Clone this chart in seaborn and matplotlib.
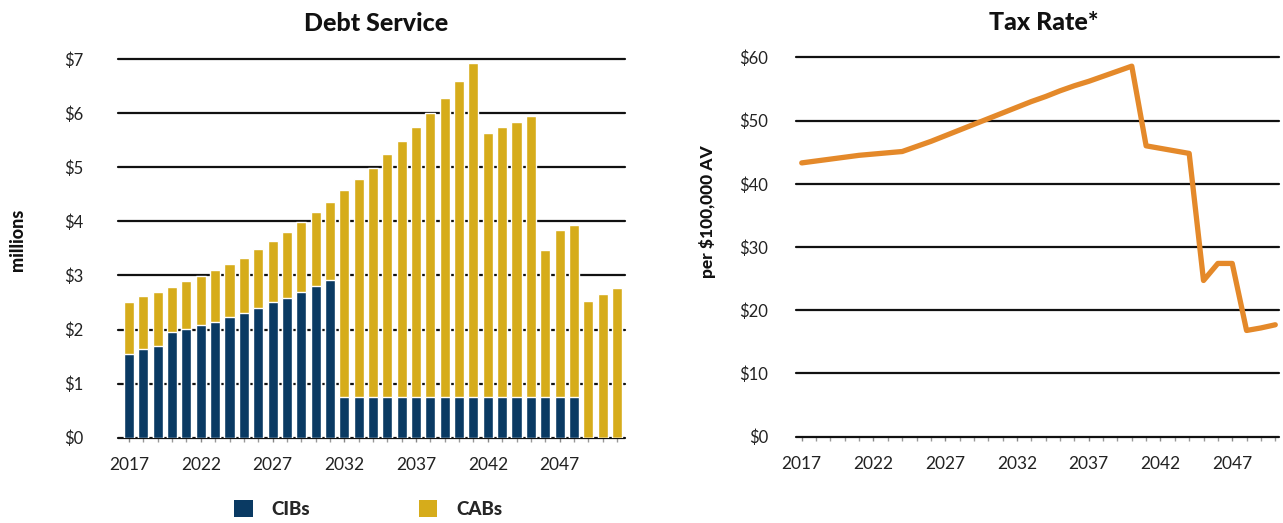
import matplotlib
matplotlib.use("Agg")
import matplotlib.pyplot as plt
from matplotlib.patches import Patch
from matplotlib.ticker import FuncFormatter, MultipleLocator
import seaborn as sns
import pandas as pd

# Debt service by year, $ millions
years = list(range(2017, 2052))
cibs = [1.55, 1.64, 1.70, 1.95, 2.01, 2.08, 2.14, 2.24, 2.31, 2.40,
        2.50, 2.59, 2.70, 2.80, 2.91, 0.76, 0.76, 0.76, 0.76, 0.76,
        0.76, 0.76, 0.76, 0.76, 0.76, 0.76, 0.76, 0.76, 0.76, 0.76,
        0.76, 0.76, 0.00, 0.00, 0.00]
cabs = [0.95, 0.97, 0.99, 0.84, 0.89, 0.90, 0.96, 0.97, 1.02, 1.08,
        1.14, 1.21, 1.29, 1.37, 1.45, 3.81, 4.02, 4.22, 4.48, 4.73,
        4.99, 5.24, 5.52, 5.83, 6.16, 4.88, 4.98, 5.08, 5.19, 2.71,
        3.07, 3.17, 2.53, 2.65, 2.77]

# Tax rate per $100,000 assessed value
rate_years = list(range(2017, 2051))
tax_rate = [43.3, 43.6, 43.9, 44.2, 44.5, 44.7, 44.9, 45.1, 45.9, 46.7,
            47.6, 48.5, 49.4, 50.3, 51.2, 52.1, 53.0, 53.8, 54.7, 55.5,
            56.2, 57.0, 57.8, 58.6, 46.0, 45.6, 45.2, 44.8, 24.7, 27.4,
            27.4, 16.8, 17.2, 17.7]

year_ticks = [2017, 2022, 2027, 2032, 2037, 2042, 2047]

NAVY = "#0a3a63"
GOLD = "#d6ac1b"
ORANGE = "#e4892a"

sns.set_theme(style="white")
plt.rcParams["font.family"] = ["Lato", "DejaVu Sans"]

debt = pd.DataFrame({"year": years, "CIBs": cibs, "CABs": cabs})
debt["total"] = debt["CIBs"] + debt["CABs"]
rates = pd.DataFrame({"year": rate_years, "rate": tax_rate})

fig = plt.figure(figsize=(12.83, 5.23), dpi=100)
ax1 = fig.add_axes([118 / 1283, 1 - 437.7 / 523, 507 / 1283, 378.7 / 523])
ax2 = fig.add_axes([796 / 1283, 1 - 436.7 / 523, 483 / 1283, 379.4 / 523])

# --- Debt Service: stacked bars (CABs on top of CIBs)
sns.barplot(data=debt, x="year", y="total", color=GOLD, width=0.7,
            saturation=1, ax=ax1, zorder=3)
sns.barplot(data=debt, x="year", y="CIBs", color=NAVY, width=0.7,
            saturation=1, ax=ax1, zorder=4)
ax1.set_xlim(-0.77, 34.56)
ax1.set_ylim(0, 7)
ax1.set_yticks(range(0, 8))
ax1.yaxis.set_major_formatter(FuncFormatter(lambda v, p: f"${v:.0f}"))
ax1.set_xticks([years.index(y) for y in year_ticks])
ax1.set_xticklabels([str(y) for y in year_ticks])
ax1.xaxis.set_minor_locator(MultipleLocator(1))
for v in range(0, 8):
    ax1.axhline(v, color="#111111", lw=1.6, zorder=2, clip_on=False)
ax1.set_xlabel("")
ax1.set_ylabel("")
ax1.set_title("Debt Service", fontsize=18, fontweight="black", pad=20,
              color="#111111", x=0.51)

# --- Tax Rate line
sns.lineplot(data=rates, x="year", y="rate", color=ORANGE, lw=3.8, ax=ax2,
             zorder=3)
ax2.set_xlim(2016.6, 2050.26)
ax2.set_ylim(0, 60)
ax2.set_yticks(range(0, 61, 10))
ax2.yaxis.set_major_formatter(FuncFormatter(lambda v, p: f"${v:.0f}"))
ax2.set_xticks(year_ticks)
ax2.set_xticklabels([str(y) for y in year_ticks])
ax2.xaxis.set_minor_locator(MultipleLocator(1))
for v in range(0, 61, 10):
    ax2.axhline(v, color="#111111", lw=1.6, zorder=2, clip_on=False)
ax2.set_xlabel("")
ax2.set_ylabel("")
ax2.set_title("Tax Rate*", fontsize=18, fontweight="black", pad=20,
              color="#111111", x=0.512)

for ax, ypad in ((ax1, 25), (ax2, 20)):
    for s in ax.spines.values():
        s.set_visible(False)
    ax.tick_params(axis="y", length=0, pad=ypad, labelsize=12,
                   labelcolor="#222222")
    ax.tick_params(axis="x", which="major", length=3, width=1,
                   color="#888888", pad=11, labelsize=12.5,
                   labelcolor="#222222", bottom=True)
    ax.tick_params(axis="x", which="minor", length=3, width=1,
                   color="#999999", bottom=True)

fig.text(18 / 1283, 1 - 240 / 523, "millions", rotation=90, ha="center",
         va="center", fontsize=13, fontweight="black", color="#111111")
fig.text(707 / 1283, 1 - 212 / 523, "per $100,000 AV", rotation=90,
         ha="center", va="center", fontsize=12.5, fontweight="black",
         color="#111111")

handles = [Patch(facecolor=NAVY, edgecolor="none", label="CIBs"),
           Patch(facecolor=GOLD, edgecolor="none", label="CABs")]
fig.legend(handles=handles, loc="center", bbox_to_anchor=(368 / 1283, 14 / 523),
           ncol=2, frameon=False, columnspacing=5.8, handlelength=1.0,
           handleheight=1.0, handletextpad=1.0,
           prop={"weight": "black", "size": 13.5})

fig.savefig("out.png", dpi=100, facecolor="white")
